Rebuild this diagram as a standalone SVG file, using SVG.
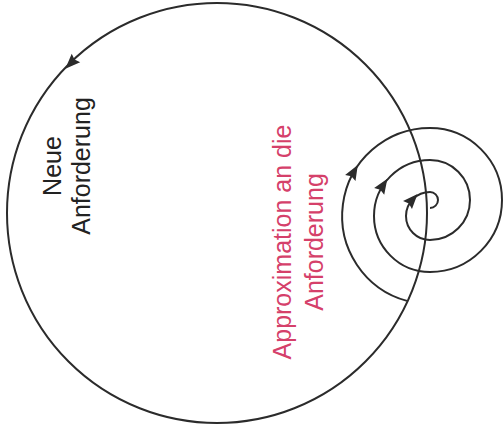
<svg xmlns="http://www.w3.org/2000/svg" width="503" height="432" viewBox="0 0 503 432">
<style>
.line{fill:none;stroke:#2b2b2b;stroke-width:2}
.lbl{font-family:"Liberation Sans",Arial,sans-serif;font-size:25px;text-anchor:middle}
.black{fill:#222}
.red{fill:#d5406a}
.ah{fill:#2b2b2b}
</style>
<defs><path id="ah" d="M8,0 L-7,-6 L-5,0 L-7,6 Z"/></defs>
<rect width="503" height="432" fill="#fff"/>
<g id="connectors">
<circle class="line" cx="217" cy="213" r="210"/>
<path class="line" d="M407,300.9 A88 88 0 0 1 430,128 A72 72 0 0 1 430,272 A56 56 0 0 1 430,160 A40 40 0 0 1 430,240 A24 24 0 0 1 430,192 A8 8 0 0 1 430,208"/>
<use href="#ah" class="ah" transform="translate(71,63) rotate(135)"/>
<use href="#ah" class="ah" transform="translate(353.8,172) rotate(-60)"/>
<use href="#ah" class="ah" transform="translate(383,185.5) rotate(-57)"/>
<use href="#ah" class="ah" transform="translate(412.2,199.9) rotate(-48)"/>
</g>
<g id="neue">
<text class="lbl black" transform="translate(61,166) rotate(-90)">Neue</text>
<text class="lbl black" transform="translate(90,166) rotate(-90)">Anforderung</text>
</g>
<g id="approx">
<text class="lbl red" transform="translate(291,242) rotate(-90)">Approximation an die</text>
<text class="lbl red" transform="translate(323,242) rotate(-90)">Anforderung</text>
</g>
</svg>
